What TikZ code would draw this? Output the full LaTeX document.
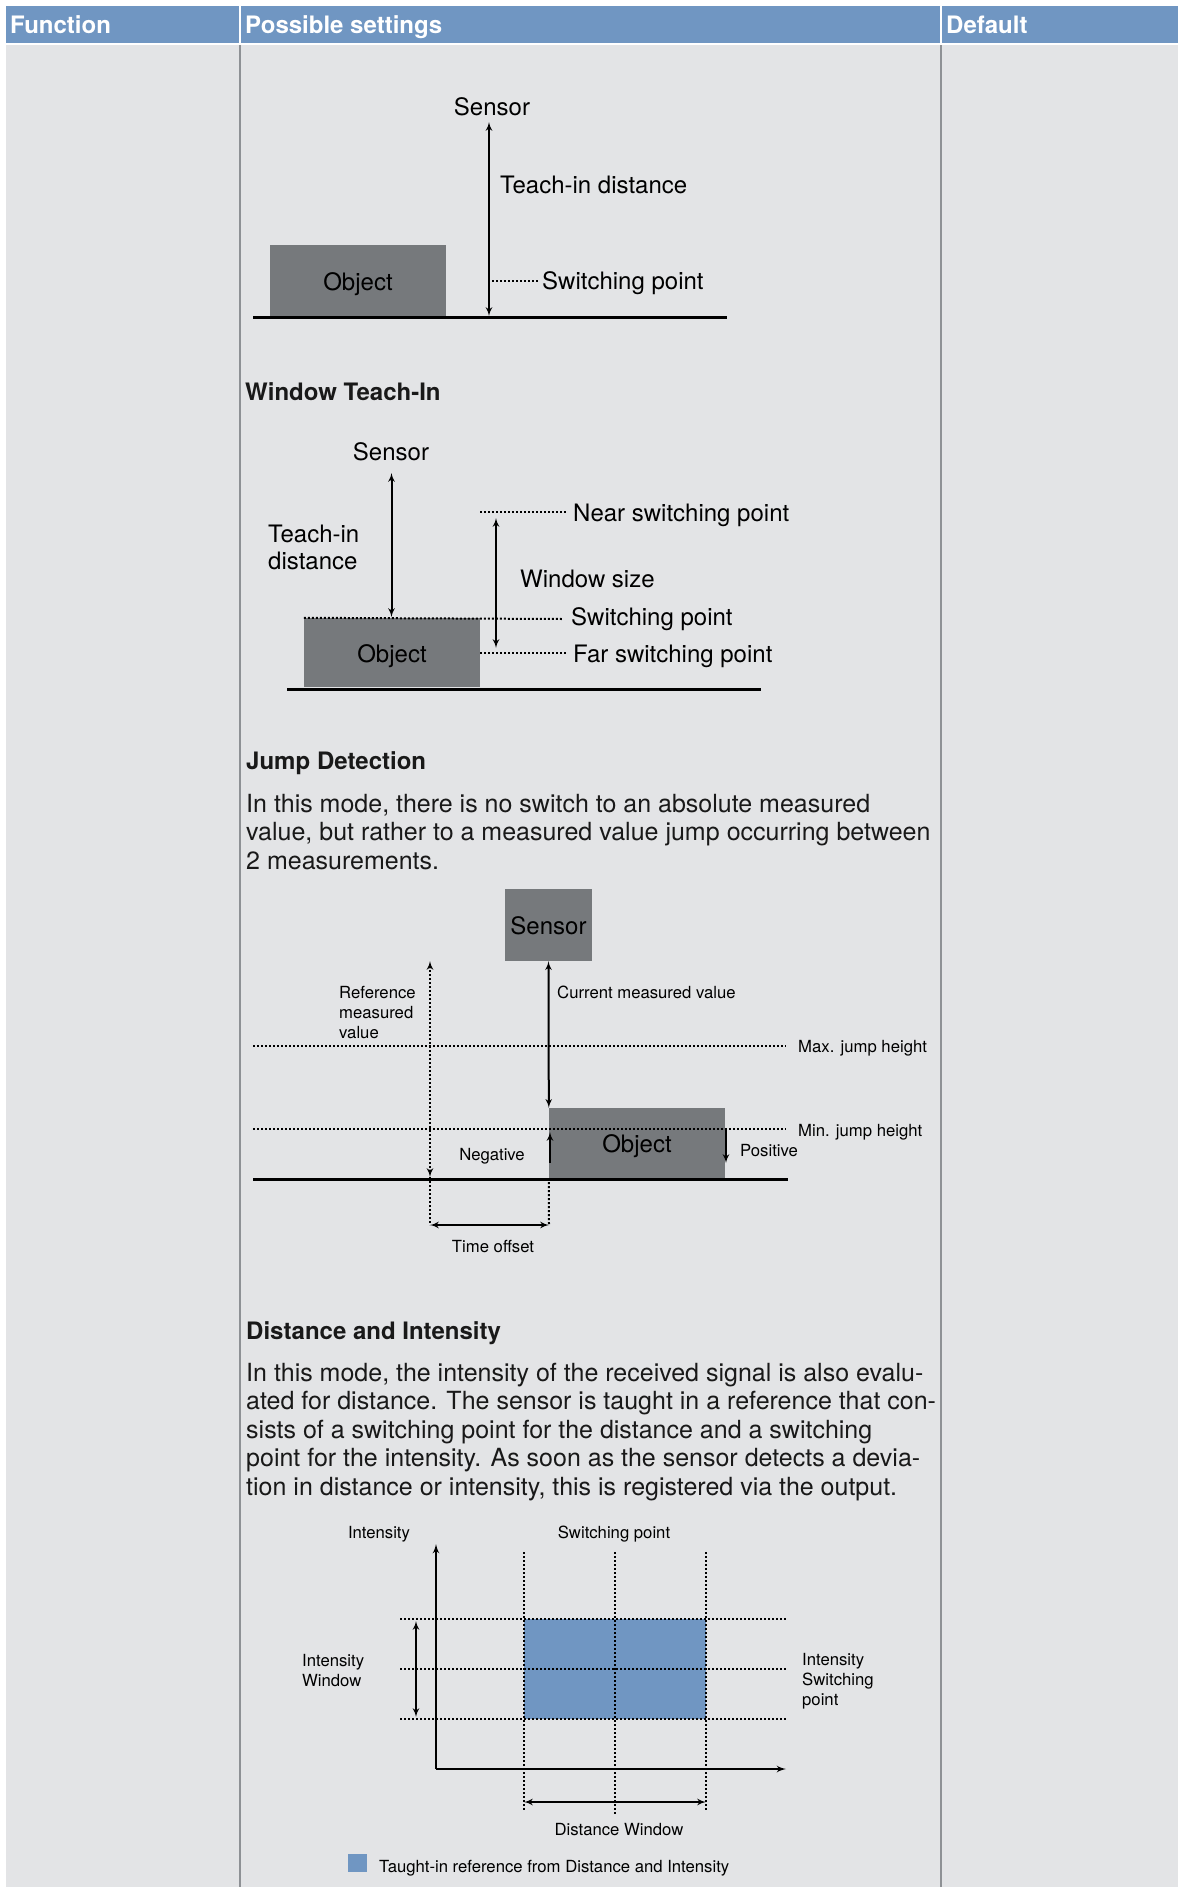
\documentclass[tikz,border=0pt]{standalone}
\usepackage{fontspec}
\setmainfont{TeX Gyre Heros}
\usepackage{xcolor}
\usepackage{tikz}
\usetikzlibrary{shapes,arrows}
\definecolor{headBlue}{HTML}{7096C2}
\definecolor{cellGrey}{HTML}{E3E4E6}
\definecolor{objGrey}{HTML}{76797C}
\definecolor{ruleGrey}{HTML}{8E9195}
\tikzstyle{head} = [anchor=base west, inner sep=0pt, text=white, font=\fontsize{24}{28}\selectfont\bfseries]
\tikzstyle{heading} = [anchor=base west, inner sep=0pt, text=black!90, font=\fontsize{24}{28}\selectfont\bfseries]
\tikzstyle{para} = [anchor=base west, inner sep=0pt, align=left, text=black!90, font=\fontsize{25}{28.5}\selectfont]
\tikzstyle{lbl} = [inner sep=0pt, align=left, font=\fontsize{24}{27}\selectfont]
\tikzstyle{smalllbl} = [inner sep=0pt, align=left, font=\fontsize{16.7}{20}\selectfont]
\tikzstyle{block} = [rectangle, fill=objGrey, inner sep=0pt, text height=24pt, text depth=5pt, font=\fontsize{24}{27}\selectfont]
\tikzstyle{line} = [draw, line width=2pt, latex'-latex']
\tikzstyle{uline} = [draw, line width=2pt, -latex']
\tikzstyle{dotline} = [draw, line width=2pt, dash pattern=on 2pt off 2pt]
\tikzstyle{ground} = [draw, line width=3pt]
\tikzstyle{axis} = [draw, line width=2.2pt, -latex']

\begin{document}
\begin{tikzpicture}[x=1pt, y=-1pt]
    \useasboundingbox (0,0) rectangle (1184,1887);
    % Table
    \fill[white] (0,0) rectangle (1184,1887);
    \fill[cellGrey] (6,45) rectangle (1178,1887);
    \fill[headBlue] (6,6) rectangle (239,43);
    \fill[headBlue] (241,6) rectangle (940,43);
    \fill[headBlue] (942,6) rectangle (1178,43);
    \draw[ruleGrey, line width=1.2pt] (240,45) -- (240,1887);
    \draw[ruleGrey, line width=1.2pt] (941,45) -- (941,1887);
    \node[head] (fun) at (10,33) {Function};
    \node[head] (set) at (245,33) {Possible settings};
    \node[head] (def) at (946,33) {Default};

    % Place nodes (teach-in)
    \node[block, minimum width=176pt, minimum height=71pt] (obj1) at (358,280.5) {Object};
    \node[lbl, anchor=base] (sen1) at (492,115) {Sensor};
    \node[lbl, anchor=base west] (dist1) at (500,193) {Teach-in distance};
    \node[lbl, anchor=base west] (sw1) at (542,289) {Switching point};
    \coordinate (top1) at (489,122);
    \coordinate (bot1) at (489,316);
    % Draw edges
    \path[line] (top1) -- (bot1);
    \path[dotline] (492,281) -- (538,281);
    \path[ground] (253,317) -- (727,317);

    % Place nodes (window teach-in)
    \node[heading] (win) at (245,400) {Window Teach-In};
    \node[block, minimum width=176pt, minimum height=69pt] (obj2) at (392,652.5) {Object};
    \node[lbl, anchor=base] (sen2) at (391,460) {Sensor};
    \node[lbl, anchor=base west] (dist2) at (268,569) {Teach-in\\distance};
    \node[lbl, anchor=base west] (near2) at (573,521) {Near switching point};
    \node[lbl, anchor=base west] (size2) at (520,587) {Window size};
    \node[lbl, anchor=base west] (sw2) at (571,625) {Switching point};
    \node[lbl, anchor=base west] (far2) at (573,662) {Far switching point};
    \coordinate (top2) at (391.5,473);
    \coordinate (bot2) at (391.5,617);
    \coordinate (wtop) at (496,518);
    \coordinate (wbot) at (496,648);
    % Draw edges
    \path[line] (top2) -- (bot2);
    \path[line] (wtop) -- (wbot);
    \path[dotline] (480,512) -- (566,512);
    \path[dotline] (obj2.north west) -- (563,619);
    \path[dotline] (480,653) -- (566,653);
    \path[ground] (287,689) -- (761,689);

    % Place nodes (jump detection)
    \node[heading] (jump) at (246,769) {Jump Detection};
    \node[para] (jumptxt) at (246,869) {In this mode, there is no switch to an absolute measured\\value, but rather to a measured value jump occurring between\\2 measurements.};
    \node[block, minimum width=87pt, minimum height=72pt] (sen3) at (548.5,925) {Sensor};
    \node[block, minimum width=176pt, minimum height=70pt] (obj3) at (637,1143) {Object};
    \node[smalllbl, anchor=base west] (ref3) at (339,1038) {Reference\\measured\\value};
    \node[smalllbl, anchor=base west] (cur3) at (557,998) {Current measured value};
    \node[smalllbl, anchor=base west] (max3) at (798,1052) {Max. jump height};
    \node[smalllbl, anchor=base west] (min3) at (798,1136) {Min. jump height};
    \node[smalllbl, anchor=base] (neg3) at (492,1160) {Negative};
    \node[smalllbl, anchor=base west] (pos3) at (740,1156) {Positive};
    \node[smalllbl, anchor=base] (time3) at (493,1252) {Time offset};
    \coordinate (reftop) at (430,961);
    \coordinate (refbot) at (430,1177);
    \coordinate (refend) at (430,1225);
    \coordinate (curend) at (549,1225);
    % Draw edges
    \path[dotline] (253,1046) -- (786,1046);
    \path[dotline] (253,1129) -- (786,1129);
    \path[dotline, latex'-latex'] (reftop) -- (refbot);
    \path[dotline] (refbot) -- (refend);
    \path[dotline] (obj3.south west) -- (curend);
    \path[line] (sen3.south) -- (obj3.north west);
    \path[line] (refend) -- (curend);
    \path[uline] (550,1163) -- (550,1132);
    \path[uline] (726,1130) -- (726,1163);
    \path[ground] (253,1179) -- (788,1179);

    % Place nodes (distance and intensity)
    \node[heading] (distint) at (246,1339) {Distance and Intensity};
    \node[para] (disttxt) at (246,1495) {In this mode, the intensity of the received signal is also evalu-\\ated for distance. The sensor is taught in a reference that con-\\sists of a switching point for the distance and a switching\\point for the intensity. As soon as the sensor detects a devia-\\tion in distance or intensity, this is registered via the output.};
    \node[fill=headBlue, inner sep=0pt, minimum width=182pt, minimum height=100pt] (ref4) at (615,1669) {};
    \node[smalllbl, anchor=base] (int4) at (379,1538) {Intensity};
    \node[smalllbl, anchor=base] (sw4) at (614,1538) {Switching point};
    \node[smalllbl, anchor=base west] (iwin4) at (302,1686) {Intensity\\Window};
    \node[smalllbl, anchor=base west] (isw4) at (802,1705) {Intensity\\Switching\\point};
    \node[smalllbl, anchor=base] (dwin4) at (619,1835) {Distance Window};
    \node[fill=headBlue, inner sep=0pt, minimum width=19pt, minimum height=18pt] (key4) at (357.5,1863) {};
    \node[smalllbl, anchor=base west] (keytxt) at (379,1872) {Taught-in reference from Distance and Intensity};
    \coordinate (orig) at (436,1769);
    % Draw edges
    \path[dotline] (524,1552) -- (524,1810);
    \path[dotline] (615,1552) -- (615,1815);
    \path[dotline] (706,1552) -- (706,1810);
    \path[dotline] (400,1619) -- (786,1619);
    \path[dotline] (400,1669) -- (786,1669);
    \path[dotline] (400,1719) -- (786,1719);
    \path[axis] (orig) -- (436,1544);
    \path[axis] (orig) -- (786,1769);
    \path[line] (416,1621) -- (416,1717);
    \path[line] (524,1802) -- (706,1802);
\end{tikzpicture}
\end{document}
